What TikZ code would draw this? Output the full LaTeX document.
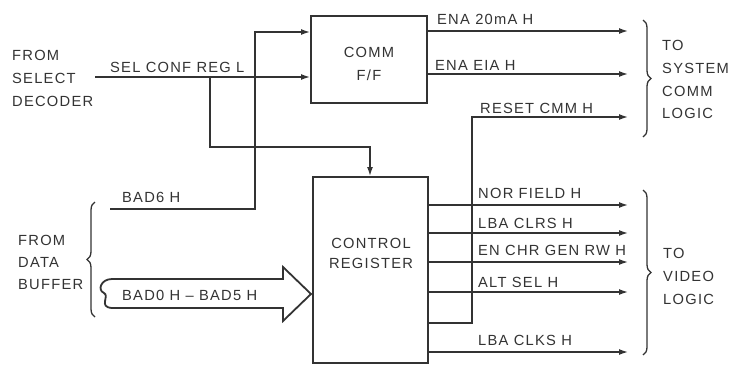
\documentclass[tikz,border=0pt]{standalone}
\usepackage{fontspec}
\setmainfont{Liberation Sans}[LetterSpace=8.5]
\usetikzlibrary{arrows.meta,decorations.pathreplacing}
\definecolor{ink}{gray}{0.2}
\begin{document}
\begin{tikzpicture}[x=1pt,y=-1pt,
  wire/.style={draw=ink, line width=1.4pt},
  arr/.style={wire, -{Latex[length=9pt,width=6pt]}},
  box/.style={draw=ink, line width=2pt, inner sep=0pt},
  lbl/.style={text=ink, inner sep=0pt, anchor=base west, font=\fontsize{14.7}{17}\selectfont},
  clbl/.style={lbl, anchor=base},
  brc/.style={draw=ink, line width=1.3pt, decorate, decoration={brace, amplitude=8pt}}]
\useasboundingbox (0,0) rectangle (730,365);

% boxes
\node[box, minimum width=116pt, minimum height=87pt] (comm) at (369,59.5) {};
\node[box, minimum width=115pt, minimum height=186pt] (ctrl) at (370,270) {};
\node[clbl] (commA) at (369,57) {COMM};
\node[clbl] (commB) at (369,80) {F/F};
\node[clbl] (ctrlA) at (371,248) {CONTROL};
\node[clbl] (ctrlB) at (371,268) {REGISTER};

% left labels
\node[lbl] (fs1) at (12,60) {FROM};
\node[lbl] (fs2) at (12,83) {SELECT};
\node[lbl] (fs3) at (12,106) {DECODER};
\node[lbl] (sel) at (110,72) {SEL CONF REG L};
\node[lbl] (b6) at (122,202) {BAD6 H};
\node[lbl] (fd1) at (18,245) {FROM};
\node[lbl] (fd2) at (18,267) {DATA};
\node[lbl] (fd3) at (18,289) {BUFFER};

% right labels
\node[lbl] (l1) at (437,24) {ENA 20mA H};
\node[lbl] (l2) at (435,70) {ENA EIA H};
\node[lbl] (l3) at (480,113) {RESET CMM H};
\node[lbl] (l4) at (478,198) {NOR FIELD H};
\node[lbl] (l5) at (478,228) {LBA CLRS H};
\node[lbl] (l6) at (478,255) {EN CHR GEN RW H};
\node[lbl] (l7) at (478,287) {ALT SEL H};
\node[lbl] (l8) at (478,345) {LBA CLKS H};
\node[lbl] (ts1) at (662,50) {TO};
\node[lbl] (ts2) at (662,73) {SYSTEM};
\node[lbl] (ts3) at (662,96) {COMM};
\node[lbl] (ts4) at (662,118) {LOGIC};
\node[lbl] (tv1) at (663,258) {TO};
\node[lbl] (tv2) at (663,281) {VIDEO};
\node[lbl] (tv3) at (663,304) {LOGIC};

% input connectors
\coordinate (selS) at (95,77);
\coordinate (brA) at (210,77);
\coordinate (c2) at (370,147);
\coordinate (bad6S) at (110,209);
\coordinate (c1) at (255,32);
\draw[arr] (selS) -- (comm.west |- selS);
\draw[arr] (bad6S) -| (c1) -- (comm.west |- c1);
\draw[arr] (brA) |- (c2) -- (ctrl.north);

% comm outputs
\coordinate (o1) at (628,31);
\coordinate (o2) at (628,74);
\coordinate (o3) at (628,117);
\coordinate (rk) at (472,117);
\coordinate (rb) at (472,323);
\draw[arr] (comm.east |- o1) -- (o1);
\draw[arr] (comm.east |- o2) -- (o2);
\draw[arr] (ctrl.east |- rb) -- (rb) -- (rk) -- (o3);

% video outputs
\coordinate (v1) at (628,205);
\coordinate (v2) at (628,233);
\coordinate (v3) at (628,262);
\coordinate (v4) at (628,292);
\coordinate (v5) at (628,352);
\foreach \v in {v1,v2,v3,v4,v5}{\draw[arr] (ctrl.east |- \v) -- (\v);}

% hollow bus arrow
\draw[draw=ink, line width=1.8pt, line join=miter]
  (112,279) -- (283,279) -- (283,267) -- (311,294) -- (283,321) -- (283,308) -- (112,308)
  .. controls (98,307) and (110,296) .. (104,293)
  .. controls (97,290) and (101,279) .. cycle;
\node[lbl] (bus) at (122,300) {BAD0 H – BAD5 H};

% braces
\draw[brc] (643,20) -- (643,137);
\draw[brc] (643,190) -- (643,355);
\draw[brc] (95,317) -- (95,202);
\end{tikzpicture}
\end{document}
